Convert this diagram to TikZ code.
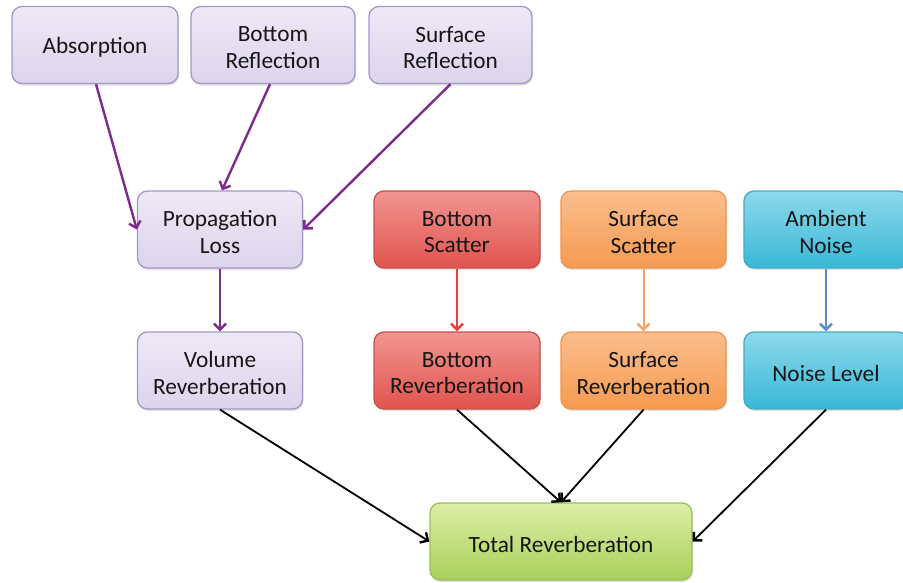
\documentclass[tikz,border=0pt]{standalone}
\usepackage{fontspec}
\setmainfont{Carlito}
\usetikzlibrary{arrows.meta,shadows}
\definecolor{lavT}{HTML}{EEE9F6}
\definecolor{lavB}{HTML}{DCD4EC}
\definecolor{lavD}{HTML}{A596C6}
\definecolor{redT}{HTML}{F29590}
\definecolor{redB}{HTML}{E0534E}
\definecolor{redD}{HTML}{C9504B}
\definecolor{orT}{HTML}{FBBE8E}
\definecolor{orB}{HTML}{F59A50}
\definecolor{orD}{HTML}{EE9450}
\definecolor{blT}{HTML}{8ED8EA}
\definecolor{blB}{HTML}{38B8D8}
\definecolor{blD}{HTML}{45A9C6}
\definecolor{grT}{HTML}{DDEEA6}
\definecolor{grB}{HTML}{A9D05C}
\definecolor{grD}{HTML}{9DBD5A}
\definecolor{purA}{HTML}{7D2A8C}
\definecolor{redA}{HTML}{E8413A}
\definecolor{orA}{HTML}{F5A065}
\definecolor{blA}{HTML}{5B8EC8}
\definecolor{txt}{HTML}{161616}
\tikzset{
  x=1pt,y=-1pt,
  lbl/.style={align=center, font=\fontsize{23.3}{26.5}\selectfont, text=txt,
    inner sep=0pt, yshift=-2.5pt},
  box/.style={rounded corners=10pt, minimum height=77pt, inner sep=0pt, line width=1.3pt,
    drop shadow={shadow xshift=1pt,shadow yshift=-2pt,opacity=0.22},
    label={[lbl]center:{#1}}},
  lav/.style={box=#1, draw=lavD, top color=lavT, bottom color=lavB},
  redbox/.style={box=#1, draw=redD, top color=redT, bottom color=redB},
  orbox/.style={box=#1, draw=orD, top color=orT, bottom color=orB},
  blbox/.style={box=#1, draw=blD, top color=blT, bottom color=blB},
  grbox/.style={box=#1, draw=grD, top color=grT, bottom color=grB},
  conn/.style={line width=2.4pt, -{Straight Barb[length=6pt,width=12pt,line width=2.4pt]}},
}
\begin{document}
\begin{tikzpicture}
\useasboundingbox (0,0) rectangle (903,582);
\node[lav={Absorption}, minimum width=166pt] (abs) at (95,45) {};
\node[lav={Bottom\\Reflection}, minimum width=164pt] (brf) at (273,45) {};
\node[lav={Surface\\Reflection}, minimum width=163pt] (srf) at (450.5,45) {};
\node[lav={Propagation\\Loss}, minimum width=165pt] (prop) at (220,229.5) {};
\node[lav={Volume\\Reverberation}, minimum width=165pt] (vol) at (220,370.5) {};
\node[redbox={Bottom\\Scatter}, minimum width=166pt] (bsc) at (457,229.5) {};
\node[redbox={Bottom\\Reverberation}, minimum width=166pt] (brv) at (457,370.5) {};
\node[orbox={Surface\\Scatter}, minimum width=165pt] (ssc) at (643.5,229.5) {};
\node[orbox={Surface\\Reverberation}, minimum width=165pt] (srv) at (643.5,370.5) {};
\node[blbox={Ambient\\Noise}, minimum width=164pt] (amb) at (826,229.5) {};
\node[blbox={Noise Level}, minimum width=164pt] (nl) at (826,370.5) {};
\node[grbox={Total Reverberation}, minimum width=262pt] (tot) at (561,541.5) {};

\draw[conn, purA] (abs.south) ++(1,0) coordinate (a1) (a1) -- (prop.west);
\draw[conn, purA] (brf.south) ++(-3,0) coordinate (b1) (b1) -- ([xshift=2pt]prop.north);
\draw[conn, purA] (srf.south) coordinate (s1) (s1) -- (prop.east);
\draw[conn, purA] (prop) -- (vol);
\draw[conn, redA, line width=2pt] (bsc) -- (brv);
\draw[conn, orA, line width=2pt] (ssc) -- (srv);
\draw[conn, blA, line width=2pt] (amb) -- (nl);
\draw[conn, black, line width=1.8pt] (vol.south) -- (tot.west);
\draw[conn, black, line width=1.8pt] (brv.south) -- (tot.north);
\draw[conn, black, line width=1.8pt] (srv.south) -- (tot.north);
\draw[conn, black, line width=1.8pt] (nl.south) -- (tot.east);
\end{tikzpicture}
\end{document}
